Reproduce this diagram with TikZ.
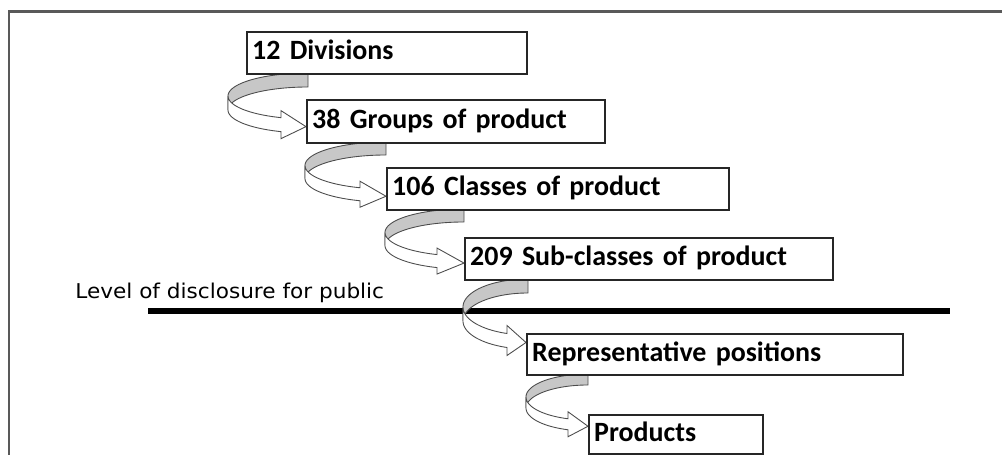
\documentclass[tikz,border=0pt]{standalone}
\usepackage{fontspec}
\setmainfont{Carlito}
\newfontfamily\dejavu{DejaVu Sans}
\tikzset{
  levbox/.style={draw=black!85, line width=1.1pt, fill=white, anchor=north west,
    inner xsep=3pt, inner ysep=0pt, align=left,
    font=\bfseries\fontsize{15.9}{18}\selectfont, text height=0.95em, text depth=0.2em},
  arrback/.style={draw=black!70, line width=0.5pt, fill=black!22},
  arrfront/.style={draw=black!70, line width=0.5pt, fill=white},
  frameline/.style={draw=black!65, line width=1.7pt},
  publine/.style={draw=black, line width=3.3pt}
}
% #1 xr, #2 ytop, #3 a, #4 b, #5 w, #6 d, #7 h, #8 tip x
\newcommand\curvarr[8]{%
  \pgfmathsetmacro\cya{#2+#4}%
  \pgfmathsetmacro\tha{180-acos(#6/#3)}%
  \pgfmathsetmacro\tipy{\cya+#4*sin(\tha)+#5/2+2}%
  \draw[arrback] plot[domain=270:180,samples=40] ({#1+#3*cos(\x)},{\cya+#4*sin(\x)})
     -- plot[domain=180:270,samples=40] ({#1+#3*cos(\x)},{\cya+#5+#4*sin(\x)}) -- cycle;
  \draw[arrfront] plot[domain=180:\tha,samples=30] ({#1+#3*cos(\x)},{\cya+#4*sin(\x)})
     -- ++(0,-#7) -- (#8,\tipy)
     -- ({#1+#3*cos(\tha)},{\cya+#5+#4*sin(\tha)+#7})
     -- ({#1+#3*cos(\tha)},{\cya+#5+#4*sin(\tha)})
     -- plot[domain=\tha:180,samples=30] ({#1+#3*cos(\x)},{\cya+#5+#4*sin(\x)}) -- cycle;
}
\begin{document}
\begin{tikzpicture}[x=0.02cm,y=-0.02cm]
\useasboundingbox (0,0) rectangle (1002,455);
% frame
\draw[frameline] (9,456) -- (9,12) -- (1003,12);
% disclosure line and label
\coordinate (pl) at (148,311);
\coordinate (pr) at (950,311);
\draw[publine] (pl) -- (pr);
\node[anchor=base west, inner sep=0pt, xscale=1.06, font=\dejavu\fontsize{11.6}{13}\selectfont] (lev) at (75,299) {Level of disclosure for public};
% curved arrows
\curvarr{308}{73}{80}{23}{14}{27}{7}{306}
\curvarr{386}{142}{81}{23.5}{13}{26}{6.5}{386}
\curvarr{464}{209}{79}{23.5}{13}{27}{6.5}{464}
\curvarr{528}{279}{65}{28}{14}{21}{8}{526}
\curvarr{588}{374}{62}{23}{11}{20}{7}{588}
% boxes
\node[levbox, text width=5.6cm-6pt, minimum height=0.84cm] (b1) at (246,31) {12 Divisions};
\node[levbox, text width=5.96cm-6pt, minimum height=0.86cm] (b2) at (306,99) {38 Groups of product};
\node[levbox, text width=6.84cm-6pt, minimum height=0.84cm] (b3) at (386,167) {106 Classes of product};
\node[levbox, text width=7.36cm-6pt, minimum height=0.84cm] (b4) at (464,237) {209 Sub-classes of product};
\node[levbox, text width=7.52cm-6pt, minimum height=0.82cm] (b5) at (526,333) {Representative positions};
\node[levbox, text width=3.48cm-6pt, minimum height=0.78cm] (b6) at (588,414) {Products};
\end{tikzpicture}
\end{document}
